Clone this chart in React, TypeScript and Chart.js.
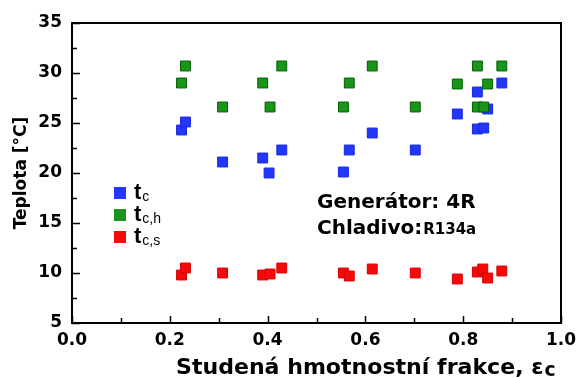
import { useEffect, useRef } from "react";
import { Chart, registerables } from "chart.js";
Chart.register(...registerables);

// t_c (blue)
const tcX = [0.224, 0.232, 0.308, 0.390, 0.403, 0.429, 0.555, 0.567, 0.614, 0.702, 0.788, 0.829, 0.829, 0.842, 0.850, 0.879];
const tcY = [24.3, 25.1, 21.1, 21.5, 20.0, 22.3, 20.1, 22.3, 24.0, 22.3, 25.9, 28.1, 24.4, 24.5, 26.4, 29.0];
// t_c,h (green)
const tchX = [0.224, 0.232, 0.308, 0.390, 0.405, 0.429, 0.555, 0.567, 0.614, 0.702, 0.788, 0.829, 0.829, 0.842, 0.850, 0.879];
const tchY = [29.0, 30.7, 26.6, 29.0, 26.6, 30.7, 26.6, 29.0, 30.7, 26.6, 28.9, 30.7, 26.6, 26.6, 28.9, 30.7];
// t_c,s (red)
const tcsX = [0.224, 0.232, 0.308, 0.390, 0.405, 0.429, 0.555, 0.567, 0.614, 0.702, 0.788, 0.829, 0.840, 0.850, 0.879];
const tcsY = [9.8, 10.5, 10.0, 9.8, 9.9, 10.5, 10.0, 9.7, 10.4, 10.0, 9.4, 10.1, 10.4, 9.5, 10.2];

const seriesSubs = ["c", "c,h", "c,s"];
const xTicks = [0, 0.2, 0.4, 0.6, 0.8, 1.0];
const yTicks = [5, 10, 15, 20, 25, 30, 35];
const xTitle = "Studená hmotnostní frakce, ε";
const xTitleSub = "c";
const yTitle = "Teplota [°C]";
const noteLine1 = "Generátor: 4R";
const noteLine2a = "Chladivo:";
const noteLine2b = "R134a";

const COLORS = [
  { fill: "rgb(35,55,250)", border: "rgb(25,40,220)" },
  { fill: "rgb(25,150,25)", border: "rgb(0,95,0)" },
  { fill: "rgb(245,10,10)", border: "rgb(215,0,0)" },
];

const FONT = "'Liberation Sans', Arial, sans-serif";
const WIDE = "'DejaVu Sans', Verdana, sans-serif";

const zip = (xs: number[], ys: number[]) => xs.map((x, i) => ({ x, y: ys[i] }));

const decorPlugin = {
  id: "decor",
  afterDraw(chart: any) {
    const ctx = chart.ctx as CanvasRenderingContext2D;
    const { left, right, top, bottom } = chart.chartArea;
    const xs = chart.scales.x;
    const ys = chart.scales.y;
    ctx.save();
    // frame
    ctx.strokeStyle = "#000";
    ctx.lineWidth = 2;
    ctx.strokeRect(left, top, right - left, bottom - top);
    // ticks (inside)
    ctx.lineWidth = 1.5;
    ctx.beginPath();
    for (let v = 0; v <= 1.0001; v += 0.1) {
      const px = Math.round(xs.getPixelForValue(v)) + 0.5;
      const major = Math.round(v * 10) % 2 === 0;
      const len = major ? 7 : 5;
      ctx.moveTo(px, bottom);
      ctx.lineTo(px, bottom - len);
    }
    for (let v = 5; v <= 35.001; v += 2.5) {
      const py = Math.round(ys.getPixelForValue(v)) + 0.5;
      const major = Math.round(v * 2) % 10 === 0;
      const len = major ? 8 : 5;
      ctx.moveTo(left, py);
      ctx.lineTo(left + len, py);
    }
    ctx.stroke();

    // legend
    const lx = left + 48;
    const ly0 = top + 170;
    const gap = 22;
    seriesSubs.forEach((sub, i) => {
      const cy = ly0 + i * gap;
      ctx.fillStyle = COLORS[i].fill;
      ctx.fillRect(lx - 6, cy - 6, 12, 12);
      ctx.fillStyle = "#000";
      ctx.textBaseline = "alphabetic";
      ctx.textAlign = "left";
      ctx.font = `bold 22px ${FONT}`;
      ctx.fillText("t", lx + 14, cy + 6);
      const tw = ctx.measureText("t").width;
      ctx.font = `14px ${FONT}`;
      ctx.fillText(sub, lx + 15 + tw, cy + 8);
    });

    // annotation
    ctx.fillStyle = "#000";
    ctx.font = `bold 20px ${WIDE}`;
    ctx.fillText(noteLine1, left + 245, top + 185);
    ctx.fillText(noteLine2a, left + 245, top + 211);
    const w2 = ctx.measureText(noteLine2a).width;
    ctx.font = `bold 15px ${WIDE}`;
    ctx.fillText(noteLine2b, left + 245 + w2 + 1, top + 211);

    // x title (fit to width of the reference)
    const target = 380;
    ctx.font = `bold 20px ${WIDE}`;
    const m0 = ctx.measureText(xTitle).width;
    ctx.font = `bold 17px ${WIDE}`;
    const s0 = ctx.measureText(xTitleSub).width;
    const k = target / (m0 + s0 + 1);
    const mainSize = 20 * k;
    const subSize = 17 * k;
    const startX = 176;
    ctx.font = `bold ${mainSize}px ${WIDE}`;
    ctx.fillText(xTitle, startX, 374);
    const mw = ctx.measureText(xTitle).width;
    ctx.font = `bold ${subSize}px ${WIDE}`;
    ctx.fillText(xTitleSub, startX + mw + 1, 376);
    ctx.restore();
  },
};

export default function App() {
  const ref = useRef<HTMLCanvasElement | null>(null);
  useEffect(() => {
    document.body.style.margin = "0";
    const canvas = ref.current;
    if (!canvas) return;
    const mk = (label: string, xs: number[], ys: number[], i: number, order: number) => ({
      label,
      data: zip(xs, ys),
      pointStyle: "rect",
      pointRadius: 7,
      pointHoverRadius: 7,
      pointBorderWidth: 1,
      backgroundColor: COLORS[i].fill,
      borderColor: COLORS[i].border,
      showLine: false,
      order,
    });
    const chart = new Chart(canvas, {
      type: "scatter",
      data: {
        datasets: [
          mk("t_c", tcX, tcY, 0, 3),
          mk("t_c,h", tchX, tchY, 1, 2),
          mk("t_c,s", tcsX, tcsY, 2, 1),
        ],
      },
      options: {
        responsive: false,
        animation: false,
        devicePixelRatio: 1,
        layout: { padding: { top: 23, right: 16, left: 0, bottom: 0 } },
        plugins: { legend: { display: false }, tooltip: { enabled: false } },
        scales: {
          x: {
            type: "linear",
            min: 0,
            max: 1,
            afterBuildTicks: (s: any) => {
              s.ticks = xTicks.map((v) => ({ value: v }));
            },
            afterFit: (s: any) => {
              s.height = 55;
              s.paddingLeft = 0;
              s.paddingRight = 0;
            },
            ticks: {
              callback: (v: any) => Number(v).toFixed(1),
              font: { family: WIDE, weight: "bold", size: 17 },
              color: "#000",
              padding: 7,
              maxRotation: 0,
            },
            grid: { display: false, drawTicks: false },
            border: { display: false },
          },
          y: {
            type: "linear",
            min: 5,
            max: 35,
            afterBuildTicks: (s: any) => {
              s.ticks = yTicks.map((v) => ({ value: v }));
            },
            afterFit: (s: any) => {
              s.width = 72;
              s.paddingTop = 0;
              s.paddingBottom = 0;
            },
            ticks: {
              font: { family: WIDE, weight: "bold", size: 17 },
              color: "#000",
              padding: 10,
            },
            title: {
              display: true,
              text: yTitle,
              color: "#000",
              font: { family: WIDE, weight: "bold", size: 17 },
              padding: { top: 11, bottom: 0 },
            },
            grid: { display: false, drawTicks: false },
            border: { display: false },
          },
        },
      },
      plugins: [decorPlugin],
    } as any);
    return () => chart.destroy();
  }, []);
  return (
    <div style={{ width: 577, height: 378 }}>
      <canvas ref={ref} width={577} height={378} style={{ display: "block" }} />
    </div>
  );
}
